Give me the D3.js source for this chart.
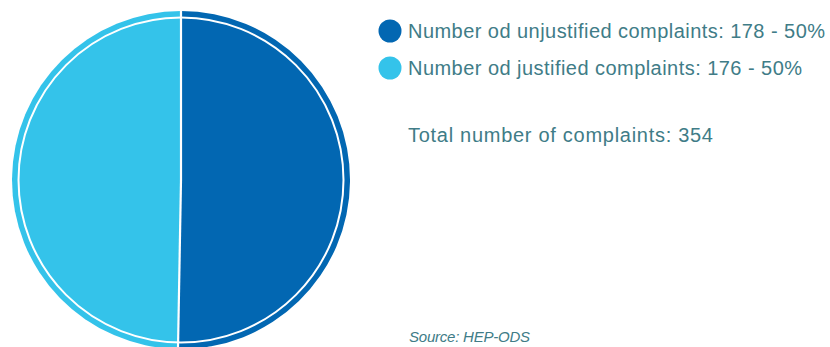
<!DOCTYPE html>
<html>
<head>
<meta charset="utf-8">
<script src="https://cdn.jsdelivr.net/npm/d3@7/dist/d3.min.js"></script>
<style>
  html, body { margin: 0; padding: 0; background: #fff; }
  svg { display: block; }
  text { font-family: "Liberation Sans", "Arial", sans-serif; fill: #407c87; }
</style>
</head>
<body>
<svg id="chart" width="830" height="347"></svg>
<script>
// Complaint counts by type
const categories = ["Number od unjustified complaints", "Number od justified complaints"];
const values = [178, 176];
const percentLabels = ["50%", "50%"];
const colors = ["#0267b2", "#34c3ea"];
const totalLabel = "Total number of complaints: ";
const sourceLabel = "Source: HEP-ODS";

const svg = d3.select("#chart");
const cx = 181, cy = 180, outerR = 169, ringR = 162.5;

const pie = d3.pie().sort(null).value(d => d.value);
const arc = d3.arc().innerRadius(0).outerRadius(outerR);
const data = categories.map((c, i) => ({ name: c, value: values[i], color: colors[i] }));

const g = svg.append("g").attr("transform", `translate(${cx},${cy})`);
g.selectAll("path.slice")
  .data(pie(data))
  .join("path")
  .attr("class", "slice")
  .attr("d", arc)
  .attr("fill", d => d.data.color);

// thin white ring inside the rim
g.append("circle").attr("r", ringR).attr("fill", "none")
  .attr("stroke", "#fff").attr("stroke-width", 2);

// white dividers between slices
pie(data).forEach(d => {
  const a = d.startAngle;
  g.append("line")
    .attr("x1", 0).attr("y1", 0)
    .attr("x2", Math.sin(a) * (outerR + 2))
    .attr("y2", -Math.cos(a) * (outerR + 2))
    .attr("stroke", "#fff").attr("stroke-width", 2.2);
});

// fit a text element to a given width
function fitWidth(sel, w) {
  sel.each(function () {
    const cur = this.getComputedTextLength();
    const n = this.textContent.length;
    if (n > 1) d3.select(this).attr("letter-spacing", (w - cur) / (n - 1));
  });
}

// legend
const legend = svg.append("g").attr("transform", "translate(390,31)");
const rows = legend.selectAll("g.row").data(data).join("g")
  .attr("class", "row")
  .attr("transform", (d, i) => `translate(0,${i * 37})`);
rows.append("circle").attr("r", 11.5).attr("fill", d => d.color);
const legendWidths = [417, 394];
rows.append("text")
  .attr("x", 18).attr("y", 7)
  .style("font-size", "20px")
  .text((d, i) => `${d.name}: ${d.value} - ${percentLabels[i]}`)
  .each(function (d, i) { fitWidth(d3.select(this), legendWidths[i]); });

svg.append("text")
  .attr("x", 408).attr("y", 142)
  .style("font-size", "20px")
  .text(totalLabel + d3.sum(values))
  .call(fitWidth, 305);

svg.append("text")
  .attr("x", 409).attr("y", 342)
  .style("font-size", "15px").style("font-style", "italic")
  .text(sourceLabel)
  .call(fitWidth, 121);
</script>
</body>
</html>
